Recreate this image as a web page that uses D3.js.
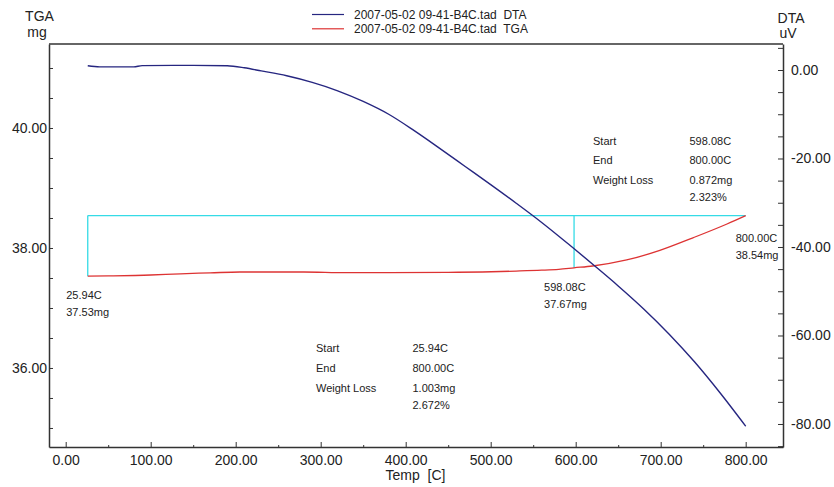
<!DOCTYPE html>
<html>
<head>
<meta charset="utf-8">
<script src="https://cdn.jsdelivr.net/npm/d3@7"></script>
<style>
  body { margin: 0; background: #fff; }
  svg { display: block; font-family: Arial, "Liberation Sans", sans-serif; }
  text { fill: #222; }
</style>
</head>
<body>
<svg id="chart" width="834" height="487"></svg>
<script>
// ---- data ----------------------------------------------------------------
// DTA signal (uV) against temperature (C)
const dtaTemp = [25.94, 40, 80, 90, 150, 190, 210, 230, 260, 290, 320, 350, 380, 410, 440, 470, 500, 530, 560, 590, 620, 650, 680, 710, 740, 770, 800];
const dtaUV   = [0.95, 0.7, 0.7, 1.0, 1.05, 0.95, 0.5, -0.2, -1.3, -2.8, -4.7, -7.1, -10.0, -13.7, -17.7, -21.8, -25.9, -30.1, -34.45, -39.1, -43.9, -48.8, -54.0, -59.7, -66.0, -73.0, -80.5];

// TGA mass (mg) against temperature (C)
const tgaTemp = [25.94, 50, 100, 135, 170, 205, 280, 330, 380, 450, 490, 530, 560, 580, 598.08, 620, 660, 699, 738, 778, 800];
const tgaMg   = [37.53, 37.535, 37.55, 37.57, 37.585, 37.60, 37.60, 37.59, 37.59, 37.595, 37.60, 37.615, 37.63, 37.645, 37.67, 37.70, 37.80, 37.96, 38.17, 38.40, 38.54];

const seriesNames  = ["2007-05-02 09-41-B4C.tad  DTA", "2007-05-02 09-41-B4C.tad  TGA"];
const seriesColors = ["#262680", "#dd3333"];

// marked points on the TGA curve
const markTemp = [25.94, 598.08, 800.00];
const markMg   = [37.53, 37.67, 38.54];

// weight-loss summaries
const summaryLabels = ["Start", "End", "Weight Loss", ""];
const summaryUpper  = ["598.08C", "800.00C", "0.872mg", "2.323%"];
const summaryLower  = ["25.94C", "800.00C", "1.003mg", "2.672%"];

// axis ticks
const tempTicks  = d3.range(0, 801, 50);
const tempLabels = d3.range(0, 801, 100);
const mgTicks    = d3.range(35, 41.01, 0.5);
const mgLabels   = [36, 38, 40];
const uvTicks    = d3.range(-85, 5.01, 5);
const uvLabels   = [0, -20, -40, -60, -80];

// ---- layout --------------------------------------------------------------
const plot = { left: 49, right: 783, top: 44, bottom: 447 };
const svg = d3.select("#chart");

const x  = d3.scaleLinear().domain([-19.65, 843.9]).range([plot.left, plot.right]);
const yL = d3.scaleLinear().domain([34.683, 41.4]).range([plot.bottom, plot.top]);
const yR = d3.scaleLinear().domain([-85.2, 5.876]).range([plot.bottom, plot.top]);

const fmt = v => (+v).toFixed(2);          // plain hyphen for negatives
const near = (arr, v) => arr.some(a => Math.abs(a - v) < 1e-6);

// ---- axes ----------------------------------------------------------------
const axisColor = "#333";

const bottomAxis = d3.axisBottom(x)
  .tickValues(tempTicks)
  .tickSizeInner(-5).tickSizeOuter(0).tickPadding(7)
  .tickFormat(v => near(tempLabels, v) ? fmt(v) : "");
const gB = svg.append("g").attr("transform", `translate(0,${plot.bottom})`).call(bottomAxis);
gB.selectAll(".tick line").attr("y2", d => near(tempLabels, d) ? -5 : -2);

const leftAxis = d3.axisLeft(yL)
  .tickValues(mgTicks)
  .tickSizeInner(-4).tickSizeOuter(0).tickPadding(2)
  .tickFormat(v => near(mgLabels, v) ? fmt(v) : "");
const gL = svg.append("g").attr("transform", `translate(${plot.left},0)`).call(leftAxis);

const rightAxis = d3.axisRight(yR)
  .tickValues(uvTicks)
  .tickSizeInner(-5).tickSizeOuter(0).tickPadding(8)
  .tickFormat(v => near(uvLabels, v) ? fmt(v) : "");
const gR = svg.append("g").attr("transform", `translate(${plot.right},0)`).call(rightAxis);

[gB, gL, gR].forEach(g => {
  g.selectAll(".domain").attr("stroke", axisColor).attr("stroke-width", 1.5);
  g.selectAll(".tick line").attr("stroke", axisColor);
  g.selectAll(".tick text").attr("font-size", 14).attr("fill", "#222")
    .attr("font-family", "Arial, 'Liberation Sans', sans-serif");
});
gB.selectAll(".tick text").attr("dy", "0.75em");

// top frame line
svg.append("line")
  .attr("x1", plot.left).attr("x2", plot.right)
  .attr("y1", plot.top).attr("y2", plot.top)
  .attr("stroke", axisColor).attr("stroke-width", 1.5);

// axis titles
svg.append("text").attr("x", 39.5).attr("y", 20.5).attr("text-anchor", "middle").attr("font-size", 14).text("TGA");
svg.append("text").attr("x", 37).attr("y", 37).attr("text-anchor", "middle").attr("font-size", 14).text("mg");
svg.append("text").attr("x", 791).attr("y", 22.5).attr("text-anchor", "middle").attr("font-size", 14).text("DTA");
svg.append("text").attr("x", 788).attr("y", 38).attr("text-anchor", "middle").attr("font-size", 14).text("uV");
svg.append("text").attr("x", 415.5).attr("y", 480).attr("text-anchor", "middle")
  .attr("font-size", 14).style("white-space", "pre").text("Temp  [C]");

// ---- step markers (cyan) -------------------------------------------------
const cyan = "#35dbe6";
const gM = svg.append("g").attr("stroke", cyan).attr("stroke-width", 1.3).attr("fill", "none");
gM.append("line")
  .attr("x1", x(markTemp[0])).attr("x2", x(markTemp[0]))
  .attr("y1", yL(markMg[0])).attr("y2", yL(markMg[2]));
gM.append("line")
  .attr("x1", x(markTemp[0])).attr("x2", x(markTemp[2]))
  .attr("y1", yL(markMg[2])).attr("y2", yL(markMg[2]));
gM.append("line")
  .attr("x1", x(markTemp[1])).attr("x2", x(markTemp[1]))
  .attr("y1", yL(markMg[2])).attr("y2", yL(markMg[1]));

// ---- curves --------------------------------------------------------------
const dtaLine = d3.line()
  .x((d, i) => x(dtaTemp[i]))
  .y(d => yR(d))
  .curve(d3.curveMonotoneX);
const tgaLine = d3.line()
  .x((d, i) => x(tgaTemp[i]))
  .y(d => yL(d))
  .curve(d3.curveMonotoneX);

svg.append("path").attr("d", tgaLine(tgaMg))
  .attr("fill", "none").attr("stroke", seriesColors[1]).attr("stroke-width", 1.3);
svg.append("path").attr("d", dtaLine(dtaUV))
  .attr("fill", "none").attr("stroke", seriesColors[0]).attr("stroke-width", 1.4);

// ---- point labels --------------------------------------------------------
const labelOffsets = [[-21.5, 23], [-30, 23], [-10, 26.5]];
markTemp.forEach((t, i) => {
  const px = x(t) + labelOffsets[i][0];
  const py = yL(markMg[i]) + labelOffsets[i][1];
  svg.append("text").attr("x", px).attr("y", py).attr("font-size", 11).text(fmt(t) + "C");
  svg.append("text").attr("x", px).attr("y", py + 17).attr("font-size", 11).text(fmt(markMg[i]) + "mg");
});

// ---- summaries -----------------------------------------------------------
const rowOffsets = [0, 19.5, 39.5, 56.5];
function summary(x0, y0, values) {
  const g = svg.append("g").attr("font-size", 11);
  summaryLabels.forEach((lab, i) => {
    if (lab) g.append("text").attr("x", x0).attr("y", y0 + rowOffsets[i]).text(lab);
    g.append("text").attr("x", x0 + 96.5).attr("y", y0 + rowOffsets[i]).text(values[i]);
  });
}
summary(593, 144.5, summaryUpper);
summary(316, 352.3, summaryLower);

// ---- legend --------------------------------------------------------------
seriesNames.forEach((name, i) => {
  const ly = 14.5 + i * 14.3;
  svg.append("line").attr("x1", 312).attr("x2", 344).attr("y1", ly).attr("y2", ly)
    .attr("stroke", seriesColors[i]).attr("stroke-width", 1.2);
  svg.append("text").attr("x", 354).attr("y", ly + 4.2).attr("font-size", 12)
    .style("white-space", "pre").text(name);
});
</script>
</body>
</html>
